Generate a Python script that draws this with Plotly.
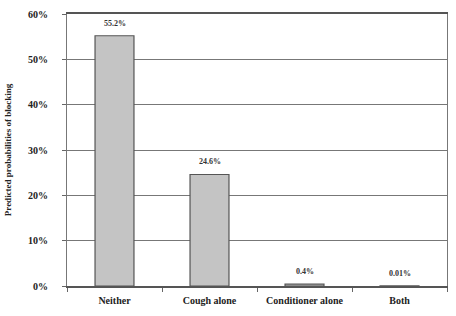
import plotly.graph_objects as go

categories = ["Neither", "Cough alone", "Conditioner alone", "Both"]
values = [0.552, 0.246, 0.004, 0.0001]
labels = ["55.2%", "24.6%", "0.4%", "0.01%"]
y_ticks = [0, 0.1, 0.2, 0.3, 0.4, 0.5, 0.6]

fig = go.Figure()
fig.add_trace(go.Bar(
    x=categories, y=values,
    marker=dict(color="#c4c4c4", line=dict(color="#555", width=1.2)),
    width=0.41,
))
for c, v, t in zip(categories, values, labels):
    fig.add_annotation(x=c, y=v, text="<b>" + t + "</b>", showarrow=False,
                       yanchor="bottom", yshift=6,
                       font=dict(family="Liberation Serif", size=8, color="#333"))
fig.update_layout(
    width=456, height=316, margin=dict(l=65, r=8, t=10, b=30),
    plot_bgcolor="white", paper_bgcolor="white", showlegend=False,
    font=dict(family="Liberation Serif", color="#222"),
)
fig.update_yaxes(
    range=[0, 0.6], tickvals=y_ticks, tickformat=".0%",
    showgrid=True, gridcolor="#777", gridwidth=1.2,
    ticks="outside", ticklen=4, tickcolor="#666",
    showline=True, linecolor="#777", linewidth=1.2, mirror=True,
    tickfont=dict(family="Liberation Serif", size=10, color="#222", weight="bold"),
    ticklabelstandoff=12,
    title=dict(text="<b>Predicted probabilities of blocking</b>", font=dict(family="Liberation Serif", size=9, color="#222"), standoff=14),
    zeroline=False,
)
fig.update_xaxes(
    showline=True, linecolor="#555", linewidth=1.5, mirror=True,
    ticks="outside", tickson="boundaries", ticklen=4, tickcolor="#666",
    ticklabelstandoff=4,
    tickfont=dict(family="Liberation Serif", size=10, color="#222", weight="bold"),
)
fig.write_html("out.html")
